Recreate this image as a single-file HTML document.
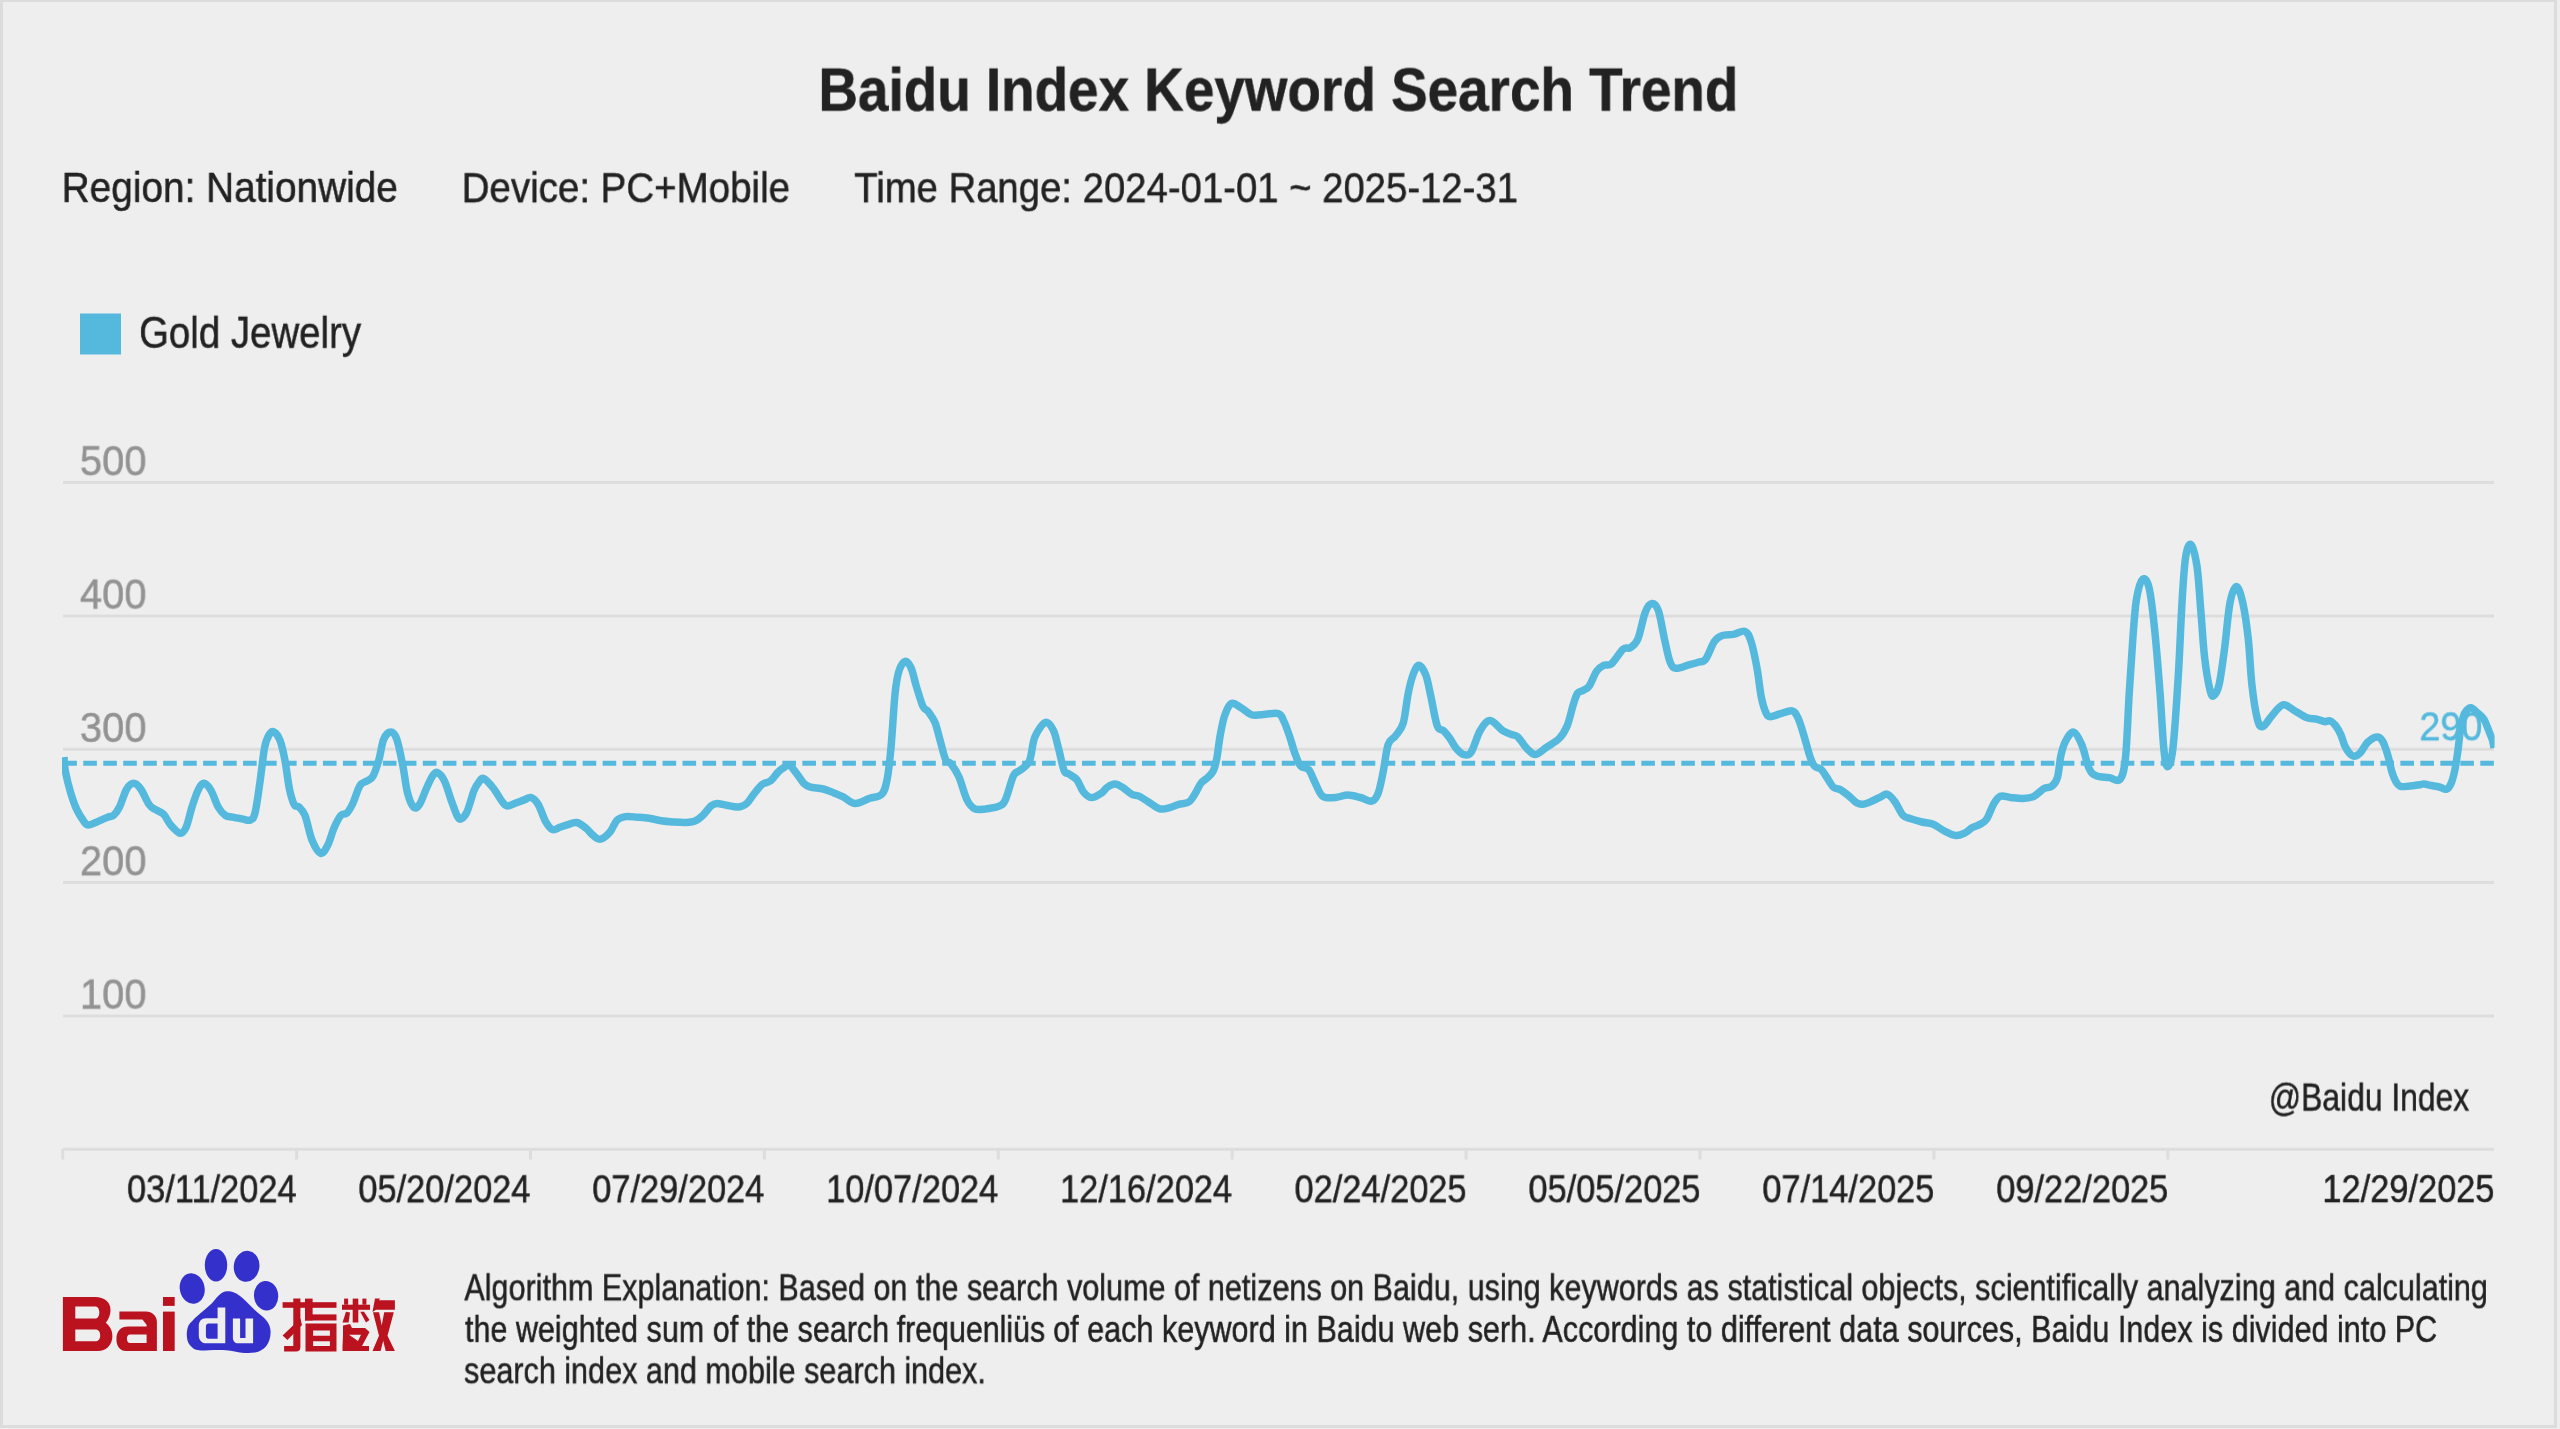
<!DOCTYPE html>
<html><head><meta charset="utf-8"><style>
html,body{margin:0;padding:0;}
body{width:2560px;height:1429px;position:relative;overflow:hidden;background:#eeeeee;}
.frame{position:absolute;left:0;top:0;width:2557px;height:1428px;box-sizing:border-box;border-top:2px solid #dcdcdc;border-left:3px solid #dcdcdc;border-right:3px solid #dcdcdc;border-bottom:3px solid #dcdcdc;}
.t{position:absolute;left:0;top:0;will-change:transform;white-space:pre;line-height:normal;font-family:"Liberation Sans",sans-serif;transform-origin:0 0;}
</style></head><body>
<div class="frame"></div>
<svg width="2560" height="1429" style="position:absolute;left:0;top:0"><line x1="63" y1="1149.3" x2="2494" y2="1149.3" stroke="#dddddd" stroke-width="3"/><line x1="63" y1="1016.0" x2="2494" y2="1016.0" stroke="#dddddd" stroke-width="3"/><line x1="63" y1="882.6" x2="2494" y2="882.6" stroke="#dddddd" stroke-width="3"/><line x1="63" y1="749.3" x2="2494" y2="749.3" stroke="#dddddd" stroke-width="3"/><line x1="63" y1="616.0" x2="2494" y2="616.0" stroke="#dddddd" stroke-width="3"/><line x1="63" y1="482.6" x2="2494" y2="482.6" stroke="#dddddd" stroke-width="3"/><line x1="62.7" y1="1149" x2="62.7" y2="1159.5" stroke="#dddddd" stroke-width="3"/><line x1="296.6" y1="1149" x2="296.6" y2="1159.5" stroke="#dddddd" stroke-width="3"/><line x1="530.5" y1="1149" x2="530.5" y2="1159.5" stroke="#dddddd" stroke-width="3"/><line x1="764.4" y1="1149" x2="764.4" y2="1159.5" stroke="#dddddd" stroke-width="3"/><line x1="998.3" y1="1149" x2="998.3" y2="1159.5" stroke="#dddddd" stroke-width="3"/><line x1="1232.2" y1="1149" x2="1232.2" y2="1159.5" stroke="#dddddd" stroke-width="3"/><line x1="1466.1" y1="1149" x2="1466.1" y2="1159.5" stroke="#dddddd" stroke-width="3"/><line x1="1700.0" y1="1149" x2="1700.0" y2="1159.5" stroke="#dddddd" stroke-width="3"/><line x1="1933.9" y1="1149" x2="1933.9" y2="1159.5" stroke="#dddddd" stroke-width="3"/><line x1="2167.8" y1="1149" x2="2167.8" y2="1159.5" stroke="#dddddd" stroke-width="3"/><line x1="63.3" y1="763.2" x2="2494" y2="763.2" stroke="#55b9dd" stroke-width="5" stroke-dasharray="13.6 6.375"/><defs><clipPath id="cp"><rect x="62" y="0" width="2432.6" height="1429"/></clipPath></defs><path clip-path="url(#cp)" d="M64.0,757.0 C64.2,759.4 64.3,765.4 65.4,771.4 C66.5,777.4 68.8,786.5 70.7,792.8 C72.6,799.1 74.5,804.6 76.7,809.4 C78.9,814.1 81.9,818.7 83.8,821.3 C85.7,823.9 86.0,824.7 88.0,824.9 C90.0,825.1 92.4,823.8 95.7,822.5 C99.0,821.2 104.6,818.4 107.6,817.2 C110.6,816.0 111.5,817.1 113.5,815.4 C115.5,813.7 117.3,811.4 119.5,807.0 C121.7,802.6 124.2,793.2 126.6,789.2 C129.0,785.2 131.3,783.3 133.7,783.3 C136.1,783.3 138.3,785.6 140.9,789.2 C143.5,792.8 146.8,801.3 149.2,804.7 C151.6,808.1 152.7,807.8 155.1,809.4 C157.5,811.0 160.9,811.6 163.5,814.2 C166.1,816.8 167.8,821.7 170.6,824.9 C173.4,828.1 177.5,832.8 180.1,833.2 C182.7,833.6 184.1,831.7 186.1,827.3 C188.1,822.9 190.0,813.1 192.0,807.0 C194.0,800.9 196.0,794.4 198.0,790.4 C200.0,786.4 201.7,783.3 203.9,783.3 C206.1,783.3 208.6,786.4 211.0,790.4 C213.4,794.4 215.8,802.8 218.2,807.0 C220.6,811.2 222.9,813.7 225.3,815.4 C227.7,817.1 229.7,816.6 232.5,817.2 C235.3,817.8 239.0,818.4 242.0,818.9 C245.0,819.4 248.1,821.1 250.3,820.1 C252.5,819.1 253.4,819.1 255.0,813.0 C256.6,806.9 258.2,794.2 259.8,783.3 C261.4,772.4 263.0,755.7 264.6,747.6 C266.2,739.5 267.7,737.1 269.3,734.5 C270.9,731.9 272.3,731.1 274.1,732.1 C275.9,733.1 278.2,735.8 280.0,740.4 C281.8,745.0 283.2,751.4 284.8,759.5 C286.4,767.6 287.9,781.7 289.5,789.2 C291.1,796.7 292.7,801.7 294.3,804.7 C295.9,807.7 297.2,805.2 299.0,807.0 C300.8,808.8 302.8,809.9 305.0,815.4 C307.2,820.9 309.5,834.0 312.1,840.3 C314.7,846.6 318.1,852.6 320.7,853.4 C323.3,854.2 325.6,849.3 327.8,845.1 C330.0,840.9 331.6,833.4 333.8,828.4 C336.0,823.4 338.7,818.0 340.9,815.4 C343.1,812.8 344.9,815.0 346.9,813.0 C348.9,811.0 350.6,808.1 352.8,803.5 C355.0,798.9 357.6,789.4 360.0,785.6 C362.4,781.8 364.9,782.5 367.1,780.9 C369.3,779.3 371.0,779.7 373.0,776.1 C375.0,772.5 377.2,765.6 379.0,759.5 C380.8,753.4 381.7,743.8 383.7,739.2 C385.7,734.6 388.7,732.1 390.9,732.1 C393.1,732.1 394.8,733.7 396.8,739.2 C398.8,744.8 401.0,756.5 402.8,765.4 C404.6,774.3 405.7,785.9 407.5,792.8 C409.3,799.7 411.5,805.0 413.5,807.0 C415.5,809.0 417.2,807.9 419.4,804.7 C421.6,801.5 424.4,792.8 426.6,788.0 C428.8,783.2 430.7,778.7 432.5,776.1 C434.3,773.5 435.3,771.7 437.3,772.5 C439.3,773.3 442.0,776.1 444.4,780.9 C446.8,785.7 449.3,795.1 451.5,801.1 C453.7,807.1 455.9,813.6 457.5,816.6 C459.1,819.6 459.4,819.7 461.0,818.9 C462.6,818.1 464.8,816.5 467.0,811.8 C469.2,807.0 472.1,795.3 474.1,790.4 C476.1,785.5 477.3,784.1 478.9,782.1 C480.5,780.1 481.2,777.5 483.6,778.5 C486.0,779.5 490.0,784.0 493.2,788.0 C496.4,792.0 500.3,799.3 502.7,802.3 C505.1,805.3 505.4,805.7 507.4,805.9 C509.4,806.1 511.8,804.5 514.6,803.5 C517.4,802.5 521.3,800.9 524.1,799.9 C526.9,798.9 528.8,796.7 531.2,797.5 C533.6,798.3 536.0,800.7 538.4,804.7 C540.8,808.7 543.1,817.1 545.5,821.3 C547.9,825.4 550.2,828.6 552.6,829.6 C555.0,830.6 557.4,828.1 559.8,827.3 C562.2,826.5 564.3,825.7 567.1,824.9 C569.9,824.1 573.5,821.9 576.7,822.5 C579.9,823.1 583.4,826.2 586.2,828.4 C589.0,830.6 590.9,833.8 593.3,835.6 C595.7,837.4 597.6,839.8 600.4,839.2 C603.2,838.6 607.2,835.2 610.0,832.0 C612.8,828.8 614.5,822.7 617.1,820.1 C619.7,817.5 622.0,817.1 625.4,816.6 C628.8,816.1 633.3,816.9 637.3,817.2 C641.3,817.5 645.2,817.7 649.2,818.3 C653.2,818.9 657.1,820.1 661.1,820.7 C665.1,821.3 669.0,821.6 673.0,821.9 C677.0,822.2 681.3,822.6 684.9,822.5 C688.5,822.4 691.4,822.5 694.4,821.3 C697.4,820.1 699.9,818.0 702.7,815.4 C705.5,812.8 708.6,807.9 711.0,805.9 C713.4,803.9 714.4,803.6 717.0,803.5 C719.6,803.4 722.9,804.7 726.5,805.3 C730.1,805.9 735.0,807.3 738.4,807.0 C741.8,806.7 744.1,805.7 746.7,803.5 C749.3,801.3 751.3,797.2 753.9,794.0 C756.5,790.8 759.4,786.6 762.2,784.4 C765.0,782.2 767.9,782.9 770.5,780.9 C773.1,778.9 775.5,774.7 777.7,772.5 C779.9,770.3 781.6,769.0 783.6,767.8 C785.6,766.6 787.3,764.4 789.5,765.4 C791.7,766.4 794.3,770.7 796.7,773.7 C799.1,776.7 801.6,781.1 803.8,783.3 C806.0,785.5 806.5,785.8 809.8,786.8 C813.0,787.8 819.3,788.0 823.3,789.0 C827.3,790.0 830.6,791.6 833.9,792.9 C837.2,794.2 839.7,795.1 843.2,796.9 C846.8,798.7 850.8,803.4 855.2,803.6 C859.6,803.8 865.4,799.8 869.8,798.3 C874.2,796.8 878.9,797.4 881.8,794.3 C884.7,791.2 885.5,787.6 887.1,779.6 C888.7,771.6 889.8,760.8 891.1,746.4 C892.4,732.0 893.8,705.8 895.1,693.2 C896.4,680.6 897.4,675.9 899.1,670.6 C900.8,665.3 903.1,661.8 905.1,661.3 C907.1,660.8 909.2,663.7 911.1,667.9 C913.0,672.1 914.4,680.1 916.4,686.5 C918.4,692.9 921.0,702.3 923.0,706.5 C925.0,710.7 926.4,709.1 928.4,711.8 C930.4,714.5 933.0,717.6 935.0,722.5 C937.0,727.4 938.5,734.9 940.3,741.1 C942.1,747.3 943.9,755.9 945.7,759.7 C947.5,763.5 948.8,760.8 951.0,763.7 C953.2,766.6 956.4,771.0 959.0,777.0 C961.6,783.0 964.2,794.3 966.9,799.6 C969.5,804.9 971.8,807.4 974.9,808.9 C978.0,810.4 981.6,809.3 985.6,808.9 C989.6,808.5 995.6,807.8 998.9,806.2 C1002.2,804.7 1003.1,804.7 1005.5,799.6 C1007.9,794.5 1011.1,780.6 1013.5,775.7 C1015.9,770.8 1017.5,772.8 1020.1,770.3 C1022.8,767.8 1027.0,766.5 1029.4,761.0 C1031.9,755.5 1032.1,743.5 1034.8,737.1 C1037.5,730.7 1042.3,723.6 1045.4,722.5 C1048.5,721.4 1051.2,726.0 1053.4,730.4 C1055.6,734.8 1056.9,742.5 1058.7,749.1 C1060.5,755.8 1062.3,766.1 1064.0,770.3 C1065.7,774.5 1066.9,772.5 1069.0,774.1 C1071.1,775.7 1074.4,776.7 1076.8,779.7 C1079.2,782.7 1081.1,789.0 1083.5,792.0 C1085.9,795.0 1088.4,797.4 1091.4,797.6 C1094.4,797.8 1098.8,794.8 1101.4,793.1 C1104.0,791.4 1104.8,789.0 1107.0,787.5 C1109.2,786.0 1112.3,784.1 1114.9,784.1 C1117.5,784.1 1119.9,785.8 1122.7,787.5 C1125.5,789.2 1128.9,792.7 1131.7,794.2 C1134.5,795.7 1136.7,795.1 1139.5,796.4 C1142.3,797.7 1145.1,799.9 1148.5,802.0 C1151.9,804.1 1156.2,807.9 1159.7,808.8 C1163.2,809.7 1166.5,808.4 1169.7,807.6 C1172.9,806.9 1175.5,805.2 1178.7,804.3 C1181.9,803.4 1186.0,803.9 1188.8,802.0 C1191.6,800.1 1193.5,796.3 1195.5,793.1 C1197.5,789.9 1199.0,785.6 1201.1,783.0 C1203.1,780.4 1205.8,779.4 1207.8,777.4 C1209.8,775.4 1211.9,773.9 1213.4,770.7 C1214.9,767.5 1215.7,764.2 1216.8,758.4 C1217.9,752.6 1218.8,743.1 1220.1,736.0 C1221.4,728.9 1222.7,721.2 1224.6,715.8 C1226.5,710.4 1228.5,704.8 1231.3,703.5 C1234.1,702.2 1238.0,706.1 1241.4,708.0 C1244.8,709.9 1248.2,713.6 1251.5,714.7 C1254.8,715.8 1257.0,714.9 1261.5,714.7 C1266.0,714.5 1274.6,712.5 1278.3,713.6 C1282.0,714.7 1282.0,717.7 1283.9,721.4 C1285.8,725.1 1287.6,730.6 1289.5,736.0 C1291.4,741.4 1293.2,748.9 1295.1,753.9 C1297.0,758.9 1298.5,763.6 1300.7,766.2 C1303.0,768.8 1306.2,766.9 1308.6,769.6 C1311.0,772.3 1312.7,778.0 1315.0,782.4 C1317.3,786.8 1319.2,793.7 1322.6,796.2 C1326.0,798.7 1331.0,797.7 1335.2,797.5 C1339.4,797.3 1343.6,795.0 1347.8,795.0 C1352.0,795.0 1356.4,796.5 1360.4,797.5 C1364.4,798.5 1368.8,801.8 1371.7,801.2 C1374.6,800.6 1376.1,798.5 1378.0,793.7 C1379.9,788.9 1381.4,780.5 1383.1,772.3 C1384.8,764.1 1386.0,750.7 1388.1,744.6 C1390.2,738.5 1393.2,739.3 1395.7,735.7 C1398.2,732.1 1401.1,730.2 1403.2,723.1 C1405.3,716.0 1406.6,701.1 1408.3,692.9 C1410.0,684.7 1411.5,678.6 1413.3,674.0 C1415.1,669.4 1416.9,665.0 1419.0,665.2 C1421.1,665.4 1423.9,670.0 1425.9,675.3 C1427.9,680.5 1429.0,688.3 1430.9,696.7 C1432.8,705.1 1435.1,720.0 1437.2,725.7 C1439.3,731.4 1441.4,728.6 1443.5,730.7 C1445.6,732.8 1447.7,735.4 1449.8,738.3 C1451.9,741.2 1453.8,745.6 1456.1,748.3 C1458.4,751.0 1461.2,754.0 1463.7,754.6 C1466.2,755.2 1468.5,756.1 1471.2,752.1 C1473.9,748.1 1476.9,736.0 1480.1,730.7 C1483.2,725.5 1486.3,720.6 1490.1,720.6 C1493.9,720.6 1499.1,728.4 1502.7,730.7 C1506.3,733.0 1509.1,733.5 1511.6,734.5 C1514.1,735.5 1515.4,734.7 1517.9,737.0 C1520.4,739.3 1523.8,745.4 1526.7,748.3 C1529.6,751.2 1532.2,754.8 1535.5,754.6 C1538.8,754.4 1542.8,749.8 1546.8,747.1 C1550.8,744.4 1556.0,741.9 1559.4,738.3 C1562.8,734.7 1565.0,731.1 1567.3,725.5 C1569.6,719.9 1571.5,710.3 1573.2,704.9 C1574.9,699.5 1575.9,695.7 1577.6,693.2 C1579.3,690.8 1581.5,691.4 1583.5,690.2 C1585.5,689.0 1587.2,689.0 1589.4,685.8 C1591.6,682.6 1594.2,674.5 1596.7,671.1 C1599.2,667.7 1601.6,666.4 1604.1,665.2 C1606.5,664.0 1608.2,666.5 1611.4,663.8 C1614.6,661.1 1620.0,651.8 1623.2,649.1 C1626.4,646.4 1628.0,649.3 1630.5,647.6 C1633.0,645.9 1635.5,644.7 1637.9,638.8 C1640.4,632.9 1642.9,618.2 1645.2,612.3 C1647.5,606.4 1649.7,603.7 1651.9,603.5 C1654.1,603.3 1656.4,605.0 1658.5,610.9 C1660.6,616.8 1662.5,630.2 1664.4,638.8 C1666.4,647.4 1668.2,657.4 1670.2,662.3 C1672.2,667.2 1673.1,667.7 1676.1,668.2 C1679.0,668.7 1684.2,666.2 1687.9,665.2 C1691.6,664.2 1695.3,663.3 1698.2,662.3 C1701.1,661.3 1702.8,662.8 1705.5,659.4 C1708.2,656.0 1711.6,645.6 1714.3,641.7 C1717.0,637.8 1718.5,637.0 1721.7,635.8 C1724.9,634.6 1729.5,635.1 1733.4,634.4 C1737.3,633.7 1742.2,630.2 1745.2,631.4 C1748.2,632.6 1749.1,635.6 1751.1,641.7 C1753.1,647.8 1755.3,658.9 1757.0,668.2 C1758.7,677.5 1759.9,690.2 1761.4,697.6 C1762.9,705.0 1764.3,709.1 1765.8,712.3 C1767.3,715.5 1767.8,716.5 1770.2,716.7 C1772.7,716.9 1776.8,714.7 1780.5,713.7 C1784.2,712.7 1789.3,710.0 1792.2,710.8 C1795.1,711.5 1796.1,714.0 1798.1,718.2 C1800.1,722.4 1802.0,729.4 1804.0,735.8 C1806.0,742.2 1808.2,751.3 1809.9,756.4 C1811.7,761.5 1812.6,763.9 1814.5,766.1 C1816.4,768.3 1819.2,767.5 1821.2,769.4 C1823.2,771.3 1824.8,774.3 1826.8,777.3 C1828.8,780.3 1831.3,785.2 1833.5,787.3 C1835.7,789.3 1837.8,788.3 1840.2,789.6 C1842.6,790.9 1845.3,793.0 1848.1,795.2 C1850.9,797.4 1854.4,801.5 1857.0,803.0 C1859.6,804.5 1861.1,804.5 1863.7,804.1 C1866.3,803.7 1869.7,802.1 1872.7,800.8 C1875.7,799.5 1879.3,797.4 1881.7,796.3 C1884.1,795.2 1885.1,793.2 1887.3,794.1 C1889.5,795.0 1892.5,798.4 1895.1,801.9 C1897.7,805.4 1900.3,812.5 1902.9,815.3 C1905.5,818.1 1907.6,817.6 1910.8,818.7 C1914.0,819.8 1918.3,821.1 1922.0,822.0 C1925.7,822.9 1929.5,822.8 1933.2,824.3 C1936.9,825.8 1940.7,829.1 1944.4,831.0 C1948.1,832.9 1952.2,835.1 1955.6,835.5 C1958.9,835.9 1961.7,834.5 1964.5,833.2 C1967.3,831.9 1969.8,829.1 1972.4,827.6 C1975.0,826.1 1977.8,825.8 1980.2,824.3 C1982.6,822.8 1984.7,822.1 1986.9,818.7 C1989.1,815.3 1991.4,807.8 1993.6,804.1 C1995.8,800.4 1997.5,797.4 2000.3,796.3 C2003.1,795.2 2006.7,797.0 2010.4,797.4 C2014.1,797.8 2018.8,798.7 2022.7,798.5 C2026.6,798.3 2030.4,798.0 2033.9,796.3 C2037.5,794.6 2041.0,790.2 2044.0,788.5 C2047.0,786.8 2049.7,788.1 2051.9,786.2 C2054.2,784.3 2056.0,782.3 2057.5,777.3 C2059.0,772.3 2059.5,762.0 2060.8,756.0 C2062.1,750.0 2063.3,745.2 2065.5,741.2 C2067.7,737.2 2071.0,731.5 2073.7,732.1 C2076.4,732.7 2079.2,738.7 2081.8,744.8 C2084.4,750.9 2086.7,763.3 2089.1,768.5 C2091.5,773.7 2093.1,774.3 2096.4,775.8 C2099.8,777.3 2105.2,777.0 2109.2,777.6 C2113.1,778.2 2117.4,782.7 2120.1,779.4 C2122.8,776.1 2124.0,771.9 2125.5,757.6 C2127.0,743.3 2128.0,713.5 2129.2,693.8 C2130.4,674.1 2131.6,655.0 2132.8,639.2 C2134.0,623.4 2134.8,609.2 2136.5,599.2 C2138.2,589.2 2140.7,581.0 2142.8,579.2 C2144.9,577.4 2147.2,579.8 2149.2,588.3 C2151.2,596.8 2152.9,612.5 2154.7,630.1 C2156.5,647.7 2158.6,674.1 2160.1,693.8 C2161.6,713.5 2162.6,736.4 2163.8,748.5 C2165.0,760.6 2165.9,766.7 2167.4,766.7 C2168.9,766.7 2171.1,763.7 2172.9,748.5 C2174.7,733.3 2176.8,699.9 2178.3,675.6 C2179.8,651.3 2180.8,622.5 2182.0,602.8 C2183.2,583.1 2184.1,567.0 2185.6,557.3 C2187.1,547.6 2189.1,543.1 2191.0,544.6 C2192.9,546.1 2195.3,555.2 2197.0,566.4 C2198.7,577.6 2199.6,596.7 2200.9,611.9 C2202.2,627.1 2203.1,644.3 2204.6,657.4 C2206.1,670.5 2208.5,683.8 2210.0,690.2 C2211.5,696.6 2212.2,696.6 2213.7,695.7 C2215.2,694.8 2217.3,692.6 2219.1,684.7 C2220.9,676.8 2222.8,661.9 2224.6,648.3 C2226.4,634.6 2228.0,613.1 2230.0,602.8 C2232.0,592.5 2234.3,586.4 2236.4,586.4 C2238.5,586.4 2240.8,594.0 2242.8,602.8 C2244.8,611.6 2246.8,625.6 2248.3,639.2 C2249.8,652.9 2250.4,671.4 2251.9,684.7 C2253.4,698.1 2255.6,712.3 2257.4,719.3 C2259.2,726.3 2260.4,727.2 2262.8,726.6 C2265.2,726.0 2268.6,719.3 2271.9,715.7 C2275.2,712.1 2279.2,705.7 2282.8,704.8 C2286.5,703.9 2289.9,708.1 2293.8,710.2 C2297.8,712.3 2302.6,716.0 2306.5,717.5 C2310.4,719.0 2314.4,718.6 2317.4,719.3 C2320.4,720.0 2322.5,721.4 2324.6,721.6 C2326.7,721.9 2328.2,720.2 2330.0,720.8 C2331.8,721.4 2333.6,723.1 2335.4,725.4 C2337.2,727.7 2339.3,731.3 2340.8,734.6 C2342.3,737.9 2343.2,742.3 2344.6,745.4 C2346.0,748.5 2347.8,751.3 2349.3,753.1 C2350.9,754.9 2352.1,756.2 2353.9,756.2 C2355.7,756.2 2357.7,755.4 2360.0,753.1 C2362.3,750.8 2364.9,745.0 2367.7,742.3 C2370.5,739.6 2374.6,737.2 2377.0,737.0 C2379.4,736.8 2380.9,738.6 2382.4,740.8 C2383.9,743.0 2385.0,746.7 2386.2,750.0 C2387.3,753.3 2388.4,757.3 2389.3,760.8 C2390.2,764.3 2390.6,767.5 2391.6,770.8 C2392.6,774.1 2394.0,778.2 2395.4,780.8 C2396.8,783.4 2397.9,785.3 2400.1,786.2 C2402.3,787.1 2405.2,786.5 2408.5,786.2 C2411.8,786.0 2417.5,785.1 2420.1,784.7 C2422.7,784.3 2422.0,783.8 2423.9,783.9 C2425.8,784.0 2429.0,785.0 2431.6,785.5 C2434.2,786.0 2436.9,786.4 2439.3,787.0 C2441.8,787.6 2444.4,789.8 2446.3,789.3 C2448.2,788.8 2449.5,787.0 2450.9,783.9 C2452.3,780.8 2453.5,776.2 2454.7,770.8 C2455.8,765.4 2456.9,758.0 2457.8,751.6 C2458.7,745.2 2459.2,738.1 2460.1,732.3 C2461.0,726.5 2462.2,720.5 2463.2,716.9 C2464.2,713.3 2465.0,712.3 2466.3,710.8 C2467.6,709.3 2469.0,707.3 2470.9,707.7 C2472.8,708.1 2475.6,711.2 2477.8,713.1 C2480.0,715.0 2482.1,716.1 2484.0,719.3 C2485.9,722.5 2488.0,728.8 2489.4,732.3 C2490.8,735.8 2491.6,737.4 2492.4,740.0 C2493.2,742.6 2493.7,746.7 2494.0,748.0" fill="none" stroke="#55b9dd" stroke-width="7.5" stroke-linejoin="round" stroke-linecap="butt"/><rect x="80" y="313.5" width="41" height="41" fill="#55b9dd"/></svg>
<svg width="2560" height="1429" style="position:absolute;left:0;top:0">
<g fill="#bb1220" fill-rule="evenodd">
<path d="M62.9,1297 H95.5 C104,1297 110.5,1302 110.5,1309.5 C110.5,1316 108,1320 105.8,1322.8 C109.5,1326 112.4,1330 112.4,1336 C112.4,1345 106,1351 98,1351 H62.9 Z M75.3,1306.4 H95 C98,1306.4 99.3,1309 99.3,1312.5 C99.3,1316 98,1318.6 95,1318.6 H75.3 Z M75.3,1329.4 H95.5 C98.7,1329.4 100.2,1332 100.2,1335.3 C100.2,1338.7 98.7,1341.3 95.5,1341.3 H75.3 Z"/>
<path d="M119.4,1311.6 H146.1 C152,1311.6 156.9,1316 156.9,1322 V1351 H126 C120,1351 116.4,1346 116.4,1339.2 C116.4,1331 121,1326.6 128,1326.6 H146.6 V1324.7 L142.4,1319.5 H119.4 Z M130,1334.5 H146.6 V1343 H130 C128,1343 126.9,1341 126.9,1338.7 C126.9,1336.5 128,1334.5 130,1334.5 Z"/>
<rect x="163" y="1297" width="11.7" height="8.9"/>
<rect x="163" y="1311.6" width="11.7" height="39.4"/>
<!-- 指 -->
<rect x="282.6" y="1302.2" width="53.9" height="5.6"/>
<path d="M293.3,1298.6 H300.4 V1347 Q300.4,1351.5 296,1351.5 H284.1 V1345.9 H293.3 Z"/>
<path d="M282.6,1335.5 L300.4,1318.4 L302,1325 L287.5,1340 Z"/>
<rect x="305" y="1298.6" width="7.6" height="21.9"/>
<rect x="305" y="1314.4" width="31.5" height="6.1"/>
<path d="M305.5,1323.5 H336.5 V1351.5 H305.5 Z M313.1,1330.6 H329.9 V1335.7 H313.1 Z M313.1,1341.3 H329.9 V1345.9 H313.1 Z"/>
<!-- 数 -->
<rect x="342" y="1304.7" width="28" height="5.1"/>
<rect x="352.7" y="1298.6" width="5.6" height="23.9"/>
<rect x="344.1" y="1298.6" width="4" height="6.1"/>
<rect x="362.4" y="1298.6" width="4" height="6.1"/>
<path d="M342.5,1322.5 L346,1311.8 L350,1312.5 L348.6,1322.5 Z"/>
<path d="M360.3,1311.8 L364,1311.8 L369.5,1320 L366,1322.5 Z"/>
<path d="M343,1325.6 L350,1324 L352,1328 H365 L369.5,1332 L362,1346 H369 V1351 H342.5 V1346 L343,1336 Z M349,1334.7 L358,1341 L361,1334.7 Z"/>
<path d="M375,1298.6 L380,1298.6 L379,1300.2 H394.9 V1309.8 H376 L372.5,1312 Z"/>
<path d="M373,1312.3 H379.1 L381.7,1325.6 L384.2,1312.3 H393.8 L387.5,1335.7 L394.9,1351 H385.7 L383.2,1340.8 L380.6,1351 H372.5 L379,1335.7 Z"/>
</g>
<g fill="#3330cc">
<ellipse cx="192.2" cy="1288.5" rx="12.4" ry="15.3" transform="rotate(-12 192.2 1288.5)"/>
<ellipse cx="216" cy="1265.2" rx="11.2" ry="16.2"/>
<ellipse cx="246.6" cy="1266.3" rx="12.8" ry="15.5" transform="rotate(8 246.6 1266.3)"/>
<ellipse cx="266.1" cy="1295.7" rx="12.1" ry="14.8" transform="rotate(-5 266.1 1295.7)"/>
<path d="M227.5,1291.2 C220,1291.2 216,1299 212.2,1302.9 C206,1309 196,1316 189.8,1323.6 C186,1328 185.5,1340 189.8,1345.1 C193,1349 196,1350.5 201,1350.5 C210,1350.5 222,1349 234.7,1351.4 C242,1352.8 248,1353.5 255,1352.5 C264,1351 270.6,1344 270.6,1332 C270.6,1324 266,1319 260,1314.5 C254,1310 248,1303 241.9,1297.5 C237,1293 232,1291.2 227.5,1291.2 Z"/>
</g>
<g fill="#eeeeee" fill-rule="evenodd">
<path d="M217.6,1307.4 H225.3 V1343.3 H206 C201.5,1343.3 198.8,1340 198.8,1335 V1326 C198.8,1321 201.5,1318.2 206,1318.2 H217.6 Z M208.5,1323.6 H217.6 V1338.8 H208.5 C206.8,1338.8 205.9,1337.5 205.9,1335.5 V1327 C205.9,1325 206.8,1323.6 208.5,1323.6 Z"/>
<path d="M232.9,1318.6 H240.1 V1338 H245.5 V1318.6 H253.1 V1343.3 H238 C235,1343.3 232.9,1341 232.9,1338 Z"/>
</g>
</svg>

<div class="t" style="transform:translate(818.34px,53.60px) scaleX(0.8939);font-size:61.34px;font-weight:bold;color:#222222;-webkit-text-stroke:0.5px #222222">Baidu Index Keyword Search Trend</div><div class="t" style="transform:translate(61.67px,162.90px) scaleX(0.9015);font-size:43.0px;font-weight:normal;color:#222222;-webkit-text-stroke:0.5px #222222">Region: Nationwide</div><div class="t" style="transform:translate(461.69px,163.20px) scaleX(0.8948);font-size:43.0px;font-weight:normal;color:#222222;-webkit-text-stroke:0.5px #222222">Device: PC+Mobile</div><div class="t" style="transform:translate(854.24px,163.20px) scaleX(0.8904);font-size:43.0px;font-weight:normal;color:#222222;-webkit-text-stroke:0.5px #222222">Time Range: 2024-01-01 ~ 2025-12-31</div><div class="t" style="transform:translate(139.08px,308.80px) scaleX(0.8826);font-size:43.5px;font-weight:normal;color:#222222;-webkit-text-stroke:0.5px #222222">Gold Jewelry</div><div class="t" style="transform:translate(2268.81px,1075.60px) scaleX(0.8224);font-size:38.7px;font-weight:normal;color:#222222;-webkit-text-stroke:0.5px #222222">@Baidu Index</div><div class="t" style="transform:translate(464.35px,1266.30px) scaleX(0.8080);font-size:37.8px;font-weight:normal;color:#222222;-webkit-text-stroke:0.5px #222222">Algorithm Explanation: Based on the search volume of netizens on Baidu, using keywords as statistical objects, scientifically analyzing and calculating</div><div class="t" style="transform:translate(464.99px,1307.90px) scaleX(0.8076);font-size:37.8px;font-weight:normal;color:#222222;-webkit-text-stroke:0.5px #222222">the weighted sum of the search</div><div class="t" style="transform:translate(896.69px,1307.90px) scaleX(0.8027);font-size:37.8px;font-weight:normal;color:#222222;-webkit-text-stroke:0.5px #222222">frequenliüs</div><div class="t" style="transform:translate(1053.13px,1307.90px) scaleX(0.8086);font-size:37.8px;font-weight:normal;color:#222222;-webkit-text-stroke:0.5px #222222">of each keyword in Baidu web serh. According to different data sources, Baidu Index is divided into PC</div><div class="t" style="transform:translate(463.98px,1349.30px) scaleX(0.8092);font-size:37.8px;font-weight:normal;color:#222222;-webkit-text-stroke:0.5px #222222">search index and mobile search index.</div><div class="t" style="transform:translate(2419.31px,703.30px) scaleX(0.9341);font-size:40.5px;font-weight:normal;color:#55b9dd;-webkit-text-stroke:0.5px #55b9dd">290</div><div class="t" style="transform:translate(79.89px,969.57px) scaleX(0.9350);font-size:42.7px;font-weight:normal;color:#939393;-webkit-text-stroke:0.5px #939393">100</div><div class="t" style="transform:translate(79.89px,836.24px) scaleX(0.9350);font-size:42.7px;font-weight:normal;color:#939393;-webkit-text-stroke:0.5px #939393">200</div><div class="t" style="transform:translate(79.89px,702.91px) scaleX(0.9350);font-size:42.7px;font-weight:normal;color:#939393;-webkit-text-stroke:0.5px #939393">300</div><div class="t" style="transform:translate(79.89px,569.58px) scaleX(0.9350);font-size:42.7px;font-weight:normal;color:#939393;-webkit-text-stroke:0.5px #939393">400</div><div class="t" style="transform:translate(79.89px,436.25px) scaleX(0.9350);font-size:42.7px;font-weight:normal;color:#939393;-webkit-text-stroke:0.5px #939393">500</div><div class="t" style="transform:translate(127.00px,1167.30px) scaleX(0.8800);font-size:39.1px;font-weight:normal;color:#222222;-webkit-text-stroke:0.5px #222222">03/11/2024</div><div class="t" style="transform:translate(358.32px,1167.30px) scaleX(0.8800);font-size:39.1px;font-weight:normal;color:#222222;-webkit-text-stroke:0.5px #222222">05/20/2024</div><div class="t" style="transform:translate(592.22px,1167.30px) scaleX(0.8800);font-size:39.1px;font-weight:normal;color:#222222;-webkit-text-stroke:0.5px #222222">07/29/2024</div><div class="t" style="transform:translate(826.12px,1167.30px) scaleX(0.8800);font-size:39.1px;font-weight:normal;color:#222222;-webkit-text-stroke:0.5px #222222">10/07/2024</div><div class="t" style="transform:translate(1060.02px,1167.30px) scaleX(0.8800);font-size:39.1px;font-weight:normal;color:#222222;-webkit-text-stroke:0.5px #222222">12/16/2024</div><div class="t" style="transform:translate(1294.49px,1167.30px) scaleX(0.8800);font-size:39.1px;font-weight:normal;color:#222222;-webkit-text-stroke:0.5px #222222">02/24/2025</div><div class="t" style="transform:translate(1528.39px,1167.30px) scaleX(0.8800);font-size:39.1px;font-weight:normal;color:#222222;-webkit-text-stroke:0.5px #222222">05/05/2025</div><div class="t" style="transform:translate(1762.29px,1167.30px) scaleX(0.8800);font-size:39.1px;font-weight:normal;color:#222222;-webkit-text-stroke:0.5px #222222">07/14/2025</div><div class="t" style="transform:translate(1996.19px,1167.30px) scaleX(0.8800);font-size:39.1px;font-weight:normal;color:#222222;-webkit-text-stroke:0.5px #222222">09/22/2025</div><div class="t" style="transform:translate(2322.39px,1167.10px) scaleX(0.8800);font-size:39.1px;font-weight:normal;color:#222222;-webkit-text-stroke:0.5px #222222">12/29/2025</div>
</body></html>
